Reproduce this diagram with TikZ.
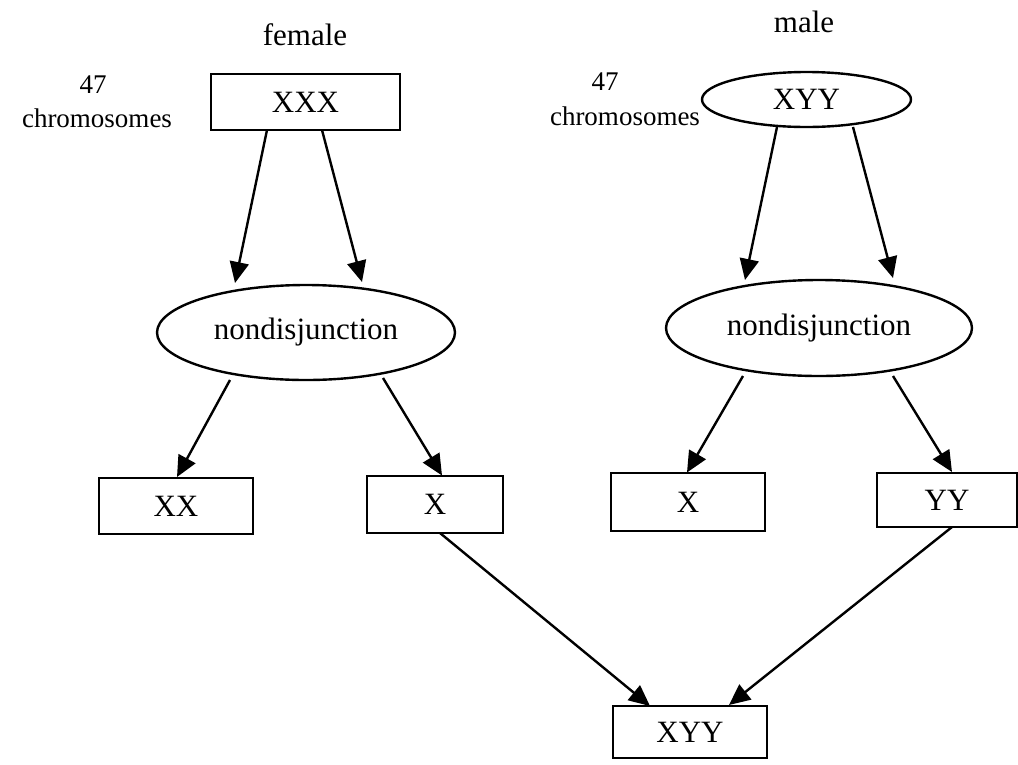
\documentclass[tikz,border=0pt]{standalone}
\usepackage{fontspec}
\setmainfont{Liberation Serif}
\usetikzlibrary{shapes.geometric,arrows.meta,calc}
\begin{document}
\begin{tikzpicture}[x=1pt,y=-1pt,
  every node/.style={inner sep=0pt,font=\fontsize{31}{36}\selectfont},
  boxnode/.style={draw,line width=2.4pt,rectangle},
  ellnode/.style={draw,line width=2.4pt,ellipse},
  lbl/.style={font=\fontsize{27}{32}\selectfont,anchor=base},
  ttl/.style={anchor=base},
  conn/.style={line width=2.4pt,-{Triangle[length=21pt,width=19pt]}}]
\useasboundingbox (0,0) rectangle (1018,764);
% titles
\node[ttl] (female) at (305,45) {female};
\node[ttl] (male) at (804,32) {male};
\node[lbl] (n47f) at (93,93) {47};
\node[lbl] (chrf) at (97,127) {chromosomes};
\node[lbl] (n47m) at (605,90) {47};
\node[lbl] (chrm) at (625,125) {chromosomes};
% nodes
\node[boxnode,minimum width=189pt,minimum height=56pt] (xxx) at (305.5,102) {XXX};
\node[ellnode,minimum width=209pt,minimum height=55pt] (xyy) at (806.5,99.5) {XYY};
\node[ellnode,minimum width=298pt,minimum height=95pt] (fell) at (306,332.5) {nondisjunction};
\node[ellnode,minimum width=306pt,minimum height=96pt] (mell) at (819,328) {nondisjunction};
\node[boxnode,minimum width=154pt,minimum height=56pt] (xx) at (176,506) {XX};
\node[boxnode,minimum width=136pt,minimum height=57pt] (fx) at (435,504.5) {X};
\node[boxnode,minimum width=154pt,minimum height=58pt] (mx) at (688,502) {X};
\node[boxnode,minimum width=140pt,minimum height=54pt] (yy) at (947,500) {YY};
\node[boxnode,minimum width=154pt,minimum height=52pt] (bot) at (690,732) {XYY};
% connectors
\draw[conn] ($(xxx.center)+(-38.5,28)$) -- ($(fell.center)+(-71,-49.5)$);
\draw[conn] ($(xxx.center)+(16.5,28)$) -- ($(fell.center)+(56,-50.5)$);
\draw[conn] ($(xyy.center)+(-29.5,27.5)$) -- ($(mell.center)+(-74,-48)$);
\draw[conn] ($(xyy.center)+(46.5,27.5)$) -- ($(mell.center)+(74,-50)$);
\draw[conn] ($(fell.center)+(-76,47.5)$) -- ($(xx.center)+(1,-29)$);
\draw[conn] ($(fell.center)+(77,45.5)$) -- ($(fx.center)+(7,-29)$);
\draw[conn] ($(mell.center)+(-76,48)$) -- ($(mx.center)+(-1,-29.5)$);
\draw[conn] ($(mell.center)+(74,48)$) -- ($(yy.center)+(5,-28)$);
\draw[conn] ($(fx.center)+(5,28.5)$) -- ($(bot.center)+(-40,-26)$);
\draw[conn] ($(yy.center)+(5,27)$) -- ($(bot.center)+(39,-27)$);
\end{tikzpicture}
\end{document}
